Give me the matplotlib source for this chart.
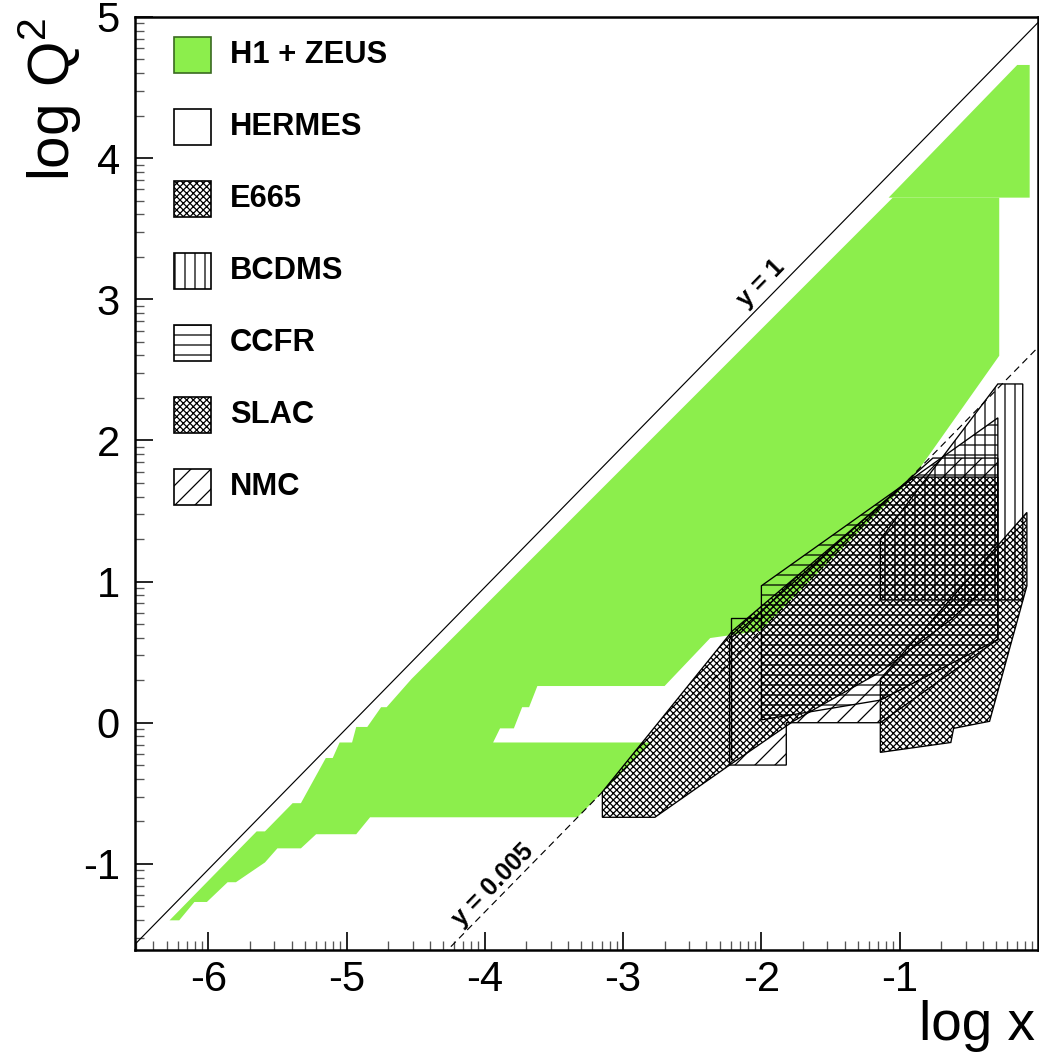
import numpy as np
import matplotlib
matplotlib.use("Agg")
import matplotlib.pyplot as plt
from matplotlib.patches import Rectangle

plt.rcParams['font.family'] = ['Liberation Sans', 'DejaVu Sans']
plt.rcParams['axes.unicode_minus'] = False
plt.rcParams['hatch.linewidth'] = 0.75
plt.rcParams['mathtext.fontset'] = 'custom'
plt.rcParams['mathtext.rm'] = 'Liberation Sans'

# ---- data: (log x, log Q^2) outlines of the measured regions ----
h1zeus_top_logx = [-1.08, -0.15, -0.06, -0.06]
h1zeus_top_logq2 = [3.72, 4.66, 4.66, 3.72]

h1zeus_logx = [-6.28, -5.65, -5.59, -5.39, -5.33, -5.15, -5.10, -5.05, -4.96, -4.93,
               -4.85, -4.75, -4.71, -4.53, -1.05, -0.28, -0.28, -0.90, -2.01, -2.37,
               -2.70, -3.62, -3.68, -3.73, -3.79, -3.89, -3.94, -2.79, -3.33, -4.83,
               -4.93, -5.22, -5.33, -5.50, -5.59, -5.80, -5.86, -6.01, -6.10, -6.21]
h1zeus_logq2 = [-1.40, -0.77, -0.77, -0.57, -0.57, -0.25, -0.25, -0.14, -0.14, -0.03,
                -0.03, 0.11, 0.11, 0.31, 3.72, 3.72, 2.60, 1.74, 0.65, 0.60,
                0.26, 0.26, 0.11, 0.11, -0.04, -0.04, -0.14, -0.14, -0.67, -0.67,
                -0.79, -0.79, -0.89, -0.89, -0.99, -1.13, -1.13, -1.27, -1.27, -1.40]

hermes_logx = [-2.22, -2.22, -2.00]
hermes_logq2 = [-0.26, 0.74, 0.74]

e665_logx = [-3.15, -2.77, -2.23, -1.77, -1.14, -0.63, -0.29, -0.29, -0.90, -2.21, -3.15]
e665_logq2 = [-0.67, -0.67, -0.30, 0.01, 0.36, 0.73, 1.04, 1.74, 1.74, 0.65, -0.49]

bcdms_logx = [-1.14, -1.14, -0.29, -0.11, -0.11]
bcdms_logq2 = [0.87, 1.30, 2.40, 2.40, 0.87]

ccfr_logx = [-2.00, -2.00, -0.29, -0.29, -1.14]
ccfr_logq2 = [0.02, 0.97, 2.16, 0.59, 0.16]

slac_logx = [-1.14, -0.63, -0.61, -0.35, -0.08, -0.08, -1.14]
slac_logq2 = [-0.21, -0.14, -0.04, 0.01, 0.97, 1.49, 0.31]

nmc_logx = [-2.23, -1.82, -1.82, -1.14, -0.29, -0.29, -0.76, -2.23]
nmc_logq2 = [-0.30, -0.30, 0.00, 0.00, 0.59, 1.875, 1.875, 0.59]

legend_labels = ['H1 + ZEUS', 'HERMES', 'E665', 'BCDMS', 'CCFR', 'SLAC', 'NMC']
x_ticks = [-6, -5, -4, -3, -2, -1]
y_ticks = [-1, 0, 1, 2, 3, 4, 5]

green = '#8cee4c'
styles = {
    'H1 + ZEUS': dict(facecolor=green, edgecolor='#3a6a20', hatch=None),
    'HERMES': dict(facecolor='white', edgecolor='black', hatch=None),
    'E665': dict(facecolor='none', edgecolor='black', hatch='xxxxxx'),
    'BCDMS': dict(facecolor='none', edgecolor='black', hatch='||'),
    'CCFR': dict(facecolor='none', edgecolor='black', hatch='--'),
    'SLAC': dict(facecolor='none', edgecolor='black', hatch='xxxxxx'),
    'NMC': dict(facecolor='none', edgecolor='black', hatch='//'),
}

fig = plt.figure(figsize=(1039 / 120, 1054 / 120), dpi=120)
ax = fig.add_axes([0.1299, 0.0987, 0.8691, 0.8852])

ax.fill(h1zeus_logx, h1zeus_logq2, color=green, lw=0, zorder=1)
ax.fill(h1zeus_top_logx, h1zeus_top_logq2, color=green, lw=0, zorder=1)

regions = [('E665', e665_logx, e665_logq2),
           ('NMC', nmc_logx, nmc_logq2),
           ('CCFR', ccfr_logx, ccfr_logq2),
           ('BCDMS', bcdms_logx, bcdms_logq2),
           ('SLAC', slac_logx, slac_logq2)]
for name, xs, ys in regions:
    st = styles[name]
    ax.fill(xs, ys, facecolor='none', edgecolor='black', hatch=st['hatch'],
            lw=0.8, zorder=2)
# HERMES is an open outline only
ax.plot(hermes_logx, hermes_logq2, color='black', lw=0.8, zorder=2)

# kinematic limits y = 1 and y = 0.005
xl = np.array([-7.0, 1.0])
ax.plot(xl, xl + 4.96, color='black', lw=0.7, zorder=4)
ax.plot(xl, xl + 4.96 + np.log10(0.005), color='black', lw=0.7,
        dashes=(6, 4), zorder=4)
ax.text(-2.0, 3.11, 'y = 1', rotation=45.7, ha='center', va='center',
        fontsize=15, fontweight='bold', zorder=5)
ax.text(-3.94, -1.15, 'y = 0.005', rotation=45.7, ha='center', va='center',
        fontsize=15, fontweight='bold', zorder=5)

# legend drawn by hand, ROOT style
for i, lab in enumerate(legend_labels):
    st = styles[lab]
    yb = (950 - 73 - 72 * i) / 933
    ax.add_patch(Rectangle((0.0432, yb), 0.041, 0.0386, transform=ax.transAxes,
                           facecolor=st['facecolor'], edgecolor=st['edgecolor'],
                           hatch=st['hatch'], lw=1.0, zorder=6))
    ax.text(0.1052, yb + 0.0193, lab, transform=ax.transAxes, ha='left',
            va='center', fontsize=18.5, fontweight='bold', zorder=6)

ax.set_xlim(-6.53, 0.0)
ax.set_ylim(-1.61, 5.0)
ax.set_xticks(x_ticks)
ax.set_xticklabels([str(v) for v in x_ticks])
ax.set_yticks(y_ticks)
ax.set_yticklabels([str(v) for v in y_ticks])
minor_x = [n + np.log10(k) for n in range(-7, 0) for k in range(2, 10)]
minor_y = [n + np.log10(k) for n in range(-2, 5) for k in range(2, 10)]
ax.set_xticks([v for v in minor_x if -6.53 < v < 0], minor=True)
ax.set_yticks([v for v in minor_y if -1.61 < v < 5], minor=True)
ax.tick_params(which='major', direction='in', length=11, width=1.0,
               labelsize=25, pad=6, top=False, right=False)
ax.tick_params(which='minor', direction='in', length=5.5, width=0.8,
               color='#555555', top=False, right=False)
ax.tick_params(axis='y', which='major', pad=9)
for s in ax.spines.values():
    s.set_linewidth(1.5)

fig.text(1035 / 1039, 1 - 1040 / 1054, 'log x', ha='right', va='baseline', fontsize=33)
fig.text(50 / 1039, 1 - 18 / 1054, r'log Q$^{2}$', rotation=90, ha='center',
         va='top', fontsize=35)

fig.savefig('out.png', dpi=120)
